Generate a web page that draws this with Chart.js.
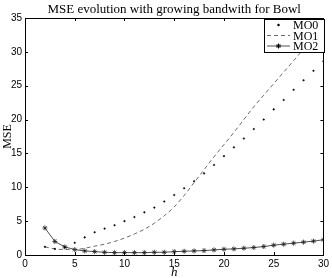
<!DOCTYPE html>
<html>
<head>
<meta charset="utf-8">
<script src="https://cdn.jsdelivr.net/npm/chart.js@4"></script>
<style>
  html, body { margin: 0; padding: 0; background: #fff; }
  #wrap { width: 332px; height: 278px; }
</style>
</head>
<body>
<div id="wrap"><canvas id="chart" width="332" height="278"></canvas></div>
<script>
// bandwidth values and MSE per method
const hValues = [2, 3, 4, 5, 6, 7, 8, 9, 10, 11, 12, 13, 14, 15, 16, 17, 18, 19, 20, 21, 22, 23, 24, 25, 26, 27, 28, 29, 30];
const mo0 = [1.2, 0.9, 1.1, 1.8, 2.6, 3.35, 3.9, 4.4, 5.0, 5.6, 6.3, 7.0, 7.9, 8.85, 9.85, 10.9, 12.05, 13.3, 14.6, 15.9, 17.2, 18.6, 20.0, 21.5, 22.9, 24.4, 25.8, 27.2, 28.6];
const mo1 = [1.2, 0.9, 0.8, 0.8, 1.0, 1.3, 1.6, 2.0, 2.5, 3.1, 3.8, 4.7, 5.8, 7.1, 8.8, 10.7, 12.6, 14.5, 16.3, 18.1, 20.0, 21.9, 23.6, 25.3, 27.0, 28.7, 30.4, 32.1, 33.8];
const mo2 = [4.0, 2.0, 1.2, 0.8, 0.6, 0.5, 0.4, 0.35, 0.35, 0.35, 0.35, 0.4, 0.4, 0.5, 0.55, 0.6, 0.65, 0.75, 0.85, 0.9, 1.0, 1.1, 1.25, 1.45, 1.6, 1.75, 1.9, 2.05, 2.25];
const xTicks = [0, 5, 10, 15, 20, 25, 30];
const yTicks = [0, 5, 10, 15, 20, 25, 30, 35];
const seriesNames = ["MO0", "MO1", "MO2"];

const toPoints = (vals) => hValues.map((h, i) => ({ x: h, y: vals[i] }));

// box, inward ticks on all sides, title, axis labels and legend
const matlabFrame = {
    id: "matlabFrame",
    afterDraw(chart) {
        const ctx = chart.ctx;
        const a = chart.chartArea;
        const xs = chart.scales.x;
        const ys = chart.scales.y;
        ctx.save();
        ctx.strokeStyle = "#000";
        ctx.lineWidth = 1;
        ctx.beginPath();
        xTicks.forEach((t) => {
            const px = Math.round(xs.getPixelForValue(t)) + 0.5;
            ctx.moveTo(px, a.bottom); ctx.lineTo(px, a.bottom - 3);
            ctx.moveTo(px, a.top); ctx.lineTo(px, a.top + 3);
        });
        yTicks.forEach((t) => {
            const py = Math.round(ys.getPixelForValue(t)) + 0.5;
            ctx.moveTo(a.left, py); ctx.lineTo(a.left + 3, py);
            ctx.moveTo(a.right, py); ctx.lineTo(a.right - 3, py);
        });
        ctx.stroke();
        ctx.strokeRect(Math.round(a.left) + 0.5, Math.round(a.top) + 0.5,
            Math.round(a.right - a.left), Math.round(a.bottom - a.top));

        // title
        ctx.fillStyle = "#000";
        ctx.font = "13px 'Liberation Serif'";
        ctx.textAlign = "center";
        ctx.textBaseline = "alphabetic";
        ctx.fillText("MSE evolution with growing bandwith for Bowl", (a.left + a.right) / 2, 13);

        // axis labels
        ctx.font = "italic 13px 'Liberation Serif'";
        ctx.fillText("h", (a.left + a.right) / 2, 276);
        ctx.save();
        ctx.translate(11, (a.top + a.bottom) / 2);
        ctx.rotate(-Math.PI / 2);
        ctx.font = "12px 'Liberation Serif'";
        ctx.fillText("MSE", 0, 0);
        ctx.restore();

        // legend
        const lx = 264, ly = 19, lw = 60, lh = 33;
        ctx.fillStyle = "#fff";
        ctx.fillRect(lx, ly, lw, lh);
        ctx.strokeStyle = "#000";
        ctx.strokeRect(lx + 0.5, ly + 0.5, lw, lh);
        ctx.font = "12px 'Liberation Serif'";
        ctx.textAlign = "left";
        ctx.textBaseline = "middle";
        seriesNames.forEach((name, i) => {
            const ry = ly + 6 + i * 10.5;
            const ds = chart.data.datasets[i];
            if (ds.showLine !== false) {
                ctx.save();
                ctx.strokeStyle = ds.borderColor;
                ctx.lineWidth = ds.borderWidth;
                ctx.setLineDash(ds.borderDash || []);
                ctx.beginPath();
                ctx.moveTo(lx + 3, ry); ctx.lineTo(lx + 26, ry);
                ctx.stroke();
                ctx.restore();
            }
            if (ds.pointRadius > 0) {
                Chart.helpers.drawPoint(ctx, {
                    pointStyle: ds.pointStyle, radius: ds.pointRadius,
                    borderWidth: ds.pointBorderWidth || 1, rotation: 0
                }, lx + 14.5, ry);
                if (ds.pointStyle === "circle") {
                    ctx.fillStyle = "#000";
                    ctx.beginPath(); ctx.arc(lx + 14.5, ry, 1, 0, Math.PI * 2); ctx.fill();
                }
            }
            ctx.fillStyle = "#000";
            ctx.fillText(name, lx + 29, ry + 1);
        });
        ctx.restore();
    }
};

new Chart(document.getElementById("chart"), {
    type: "line",
    data: {
        datasets: [
            {
                label: seriesNames[0],
                data: toPoints(mo0),
                showLine: false,
                pointStyle: "circle",
                pointRadius: 0.8,
                pointBackgroundColor: "#000",
                pointBorderColor: "#000",
                pointBorderWidth: 0.5,
            },
            {
                label: seriesNames[1],
                data: toPoints(mo1),
                borderColor: "#444",
                borderWidth: 0.8,
                borderDash: [4, 3],
                pointRadius: 0,
                cubicInterpolationMode: "monotone",
            },
            {
                label: seriesNames[2],
                data: toPoints(mo2),
                borderColor: "#222",
                borderWidth: 0.8,
                pointStyle: "star",
                pointRadius: 2.5,
                pointBorderColor: "#222",
                pointBorderWidth: 0.8,
                pointBackgroundColor: "#222",
            },
        ],
    },
    options: {
        responsive: false,
        animation: false,
        layout: { padding: { top: 18, right: 5, left: 0, bottom: 0 } },
        plugins: {
            legend: { display: false },
            tooltip: { enabled: false },
        },
        scales: {
            x: {
                type: "linear",
                min: 0,
                max: 30,
                afterBuildTicks: (s) => { s.ticks = xTicks.map((v) => ({ value: v })); },
                afterFit: (s) => { s.height = 23; },
                grid: { display: false, drawTicks: false },
                border: { display: false },
                ticks: { color: "#000", font: { family: "Liberation Sans", size: 10 }, padding: 3, maxRotation: 0 },
            },
            y: {
                min: 0,
                max: 35,
                afterBuildTicks: (s) => { s.ticks = yTicks.map((v) => ({ value: v })); },
                afterFit: (s) => { s.width = 25; },
                grid: { display: false, drawTicks: false },
                border: { display: false },
                ticks: { color: "#000", font: { family: "Liberation Sans", size: 10 }, padding: 3 },
            },
        },
    },
    plugins: [matlabFrame],
});
</script>
</body>
</html>
